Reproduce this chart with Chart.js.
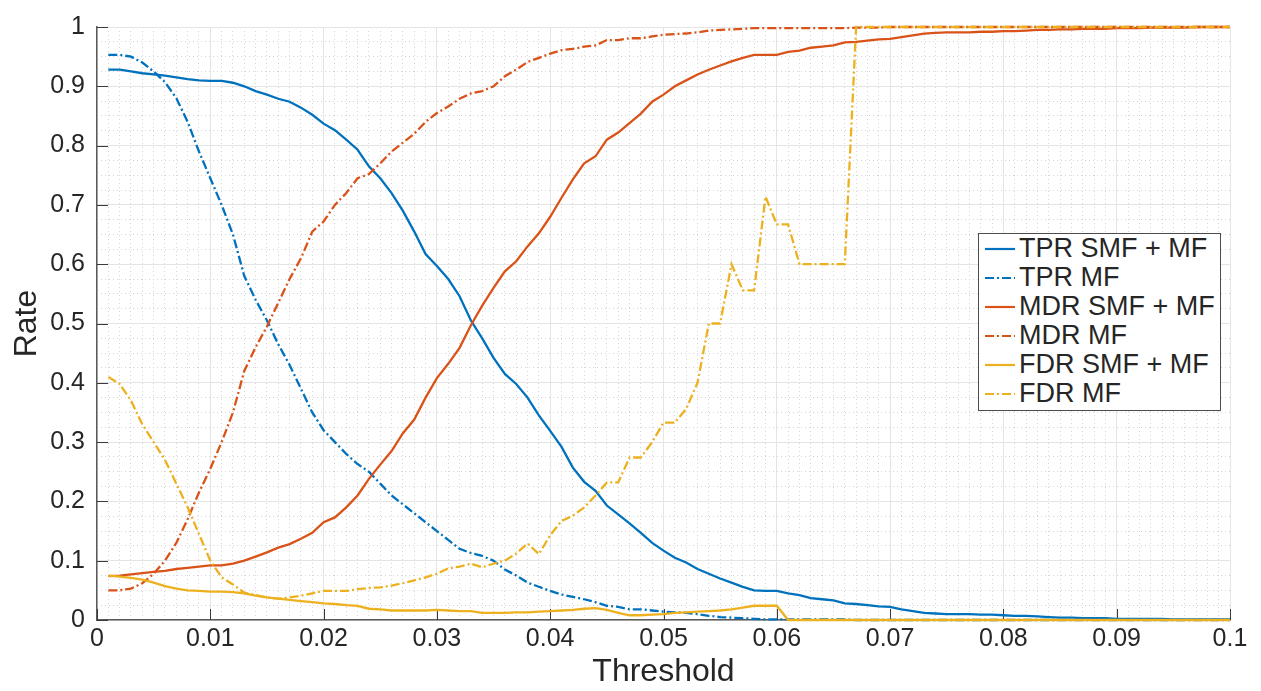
<!DOCTYPE html>
<html>
<head>
<meta charset="utf-8">
<script src="https://cdn.jsdelivr.net/npm/chart.js@4.4.1/dist/chart.umd.min.js"></script>
<style>
  body { margin: 0; background: #fff; }
  #wrap { position: relative; width: 1261px; height: 691px; }
  #legend {
    position: absolute; left: 978px; top: 233px; width: 241px;
    border: 1px solid #4d4d4d; background: #fff; padding-bottom: 2px;
    font-family: 'Liberation Sans', Arial, sans-serif; font-size: 27px; color: #262626;
  }
  .row { display: flex; align-items: center; height: 29px; white-space: nowrap; }
  .row svg { margin-left: 6px; margin-right: 4px; flex: none; }
</style>
</head>
<body>
<div id="wrap">
  <canvas id="c" width="1261" height="691"></canvas>
  <div id="legend"></div>
</div>
<script>
const thresholds = [
  0.001, 0.002, 0.003, 0.004, 0.005, 0.006, 0.007, 0.008, 0.009, 0.010,
  0.011, 0.012, 0.013, 0.014, 0.015, 0.016, 0.017, 0.018, 0.019, 0.020,
  0.021, 0.022, 0.023, 0.024, 0.025, 0.026, 0.027, 0.028, 0.029, 0.030,
  0.031, 0.032, 0.033, 0.034, 0.035, 0.036, 0.037, 0.038, 0.039, 0.040,
  0.041, 0.042, 0.043, 0.044, 0.045, 0.046, 0.047, 0.048, 0.049, 0.050,
  0.051, 0.052, 0.053, 0.054, 0.055, 0.056, 0.057, 0.058, 0.059, 0.060,
  0.061, 0.062, 0.063, 0.064, 0.065, 0.066, 0.067, 0.068, 0.069, 0.070,
  0.071, 0.072, 0.073, 0.074, 0.075, 0.076, 0.077, 0.078, 0.079, 0.080,
  0.081, 0.082, 0.083, 0.084, 0.085, 0.086, 0.087, 0.088, 0.089, 0.090,
  0.091, 0.092, 0.093, 0.094, 0.095, 0.096, 0.097, 0.098, 0.099, 0.100
];

const tprSmfMf = [
  0.928, 0.928, 0.925, 0.922, 0.920, 0.918, 0.915, 0.912, 0.910, 0.909,
  0.909, 0.906, 0.900, 0.892, 0.886, 0.879, 0.874, 0.864, 0.852, 0.837,
  0.826, 0.810, 0.793, 0.765, 0.745, 0.720, 0.690, 0.655, 0.617, 0.597,
  0.575, 0.546, 0.505, 0.475, 0.442, 0.415, 0.398, 0.375, 0.345, 0.319,
  0.292, 0.257, 0.233, 0.218, 0.193, 0.178, 0.163, 0.147, 0.130, 0.117,
  0.105, 0.097, 0.086, 0.078, 0.070, 0.063, 0.056, 0.050, 0.049, 0.049,
  0.045, 0.042, 0.037, 0.035, 0.033, 0.028, 0.027, 0.025, 0.023, 0.022,
  0.018, 0.015, 0.012, 0.011, 0.010, 0.010, 0.010, 0.009, 0.009, 0.008,
  0.007, 0.007, 0.006, 0.005, 0.004, 0.004, 0.003, 0.003, 0.003, 0.002,
  0.002, 0.002, 0.002, 0.002, 0.001, 0.001, 0.001, 0.001, 0.001, 0.001
];

const tprMf = [
  0.953, 0.953, 0.950, 0.940, 0.925, 0.907, 0.880, 0.840, 0.790, 0.745,
  0.700, 0.650, 0.580, 0.540, 0.505, 0.465, 0.430, 0.390, 0.350, 0.320,
  0.300, 0.280, 0.263, 0.250, 0.230, 0.210, 0.195, 0.180, 0.165, 0.150,
  0.135, 0.120, 0.113, 0.108, 0.100, 0.085, 0.075, 0.063, 0.056, 0.049,
  0.043, 0.039, 0.035, 0.030, 0.024, 0.022, 0.018, 0.018, 0.016, 0.014,
  0.013, 0.012, 0.010, 0.007, 0.005, 0.004, 0.003, 0.002, 0.001, 0.001,
  0.001, 0.001, 0.001, 0.001, 0.001, 0.001, 0, 0, 0, 0,
  0, 0, 0, 0, 0, 0, 0, 0, 0, 0,
  0, 0, 0, 0, 0, 0, 0, 0, 0, 0,
  0, 0, 0, 0, 0, 0, 0, 0, 0, 0
];

const mdrSmfMf = [
  0.074, 0.075, 0.077, 0.079, 0.081, 0.083, 0.086, 0.088, 0.090, 0.092,
  0.092, 0.095, 0.100, 0.107, 0.114, 0.122, 0.128, 0.137, 0.147, 0.165,
  0.173, 0.190, 0.210, 0.238, 0.262, 0.285, 0.315, 0.338, 0.375, 0.408,
  0.432, 0.459, 0.497, 0.530, 0.560, 0.588, 0.605, 0.630, 0.652, 0.680,
  0.712, 0.743, 0.770, 0.782, 0.810, 0.822, 0.838, 0.854, 0.874, 0.886,
  0.900, 0.910, 0.920, 0.928, 0.935, 0.942, 0.948, 0.953, 0.953, 0.953,
  0.958, 0.960, 0.965, 0.967, 0.969, 0.974, 0.975, 0.977, 0.979, 0.980,
  0.983, 0.986, 0.989, 0.990, 0.991, 0.991, 0.991, 0.992, 0.992, 0.993,
  0.993, 0.994, 0.995, 0.995, 0.996, 0.996, 0.997, 0.997, 0.997, 0.998,
  0.998, 0.998, 0.999, 0.999, 0.999, 0.999, 1, 1, 1, 1
];

const mdrMf = [
  0.050, 0.050, 0.053, 0.062, 0.078, 0.100, 0.130, 0.170, 0.215, 0.255,
  0.300, 0.350, 0.420, 0.460, 0.495, 0.535, 0.575, 0.610, 0.655, 0.672,
  0.700, 0.720, 0.745, 0.752, 0.770, 0.790, 0.805, 0.820, 0.840, 0.855,
  0.866, 0.879, 0.888, 0.892, 0.900, 0.917, 0.928, 0.941, 0.948, 0.955,
  0.961, 0.963, 0.967, 0.969, 0.978, 0.978, 0.981, 0.981, 0.984, 0.987,
  0.988, 0.989, 0.991, 0.994, 0.995, 0.996, 0.997, 0.998, 0.998, 0.998,
  0.998, 0.998, 0.998, 0.998, 0.998, 0.998, 0.999, 0.999, 0.999, 1,
  1, 1, 1, 1, 1, 1, 1, 1, 1, 1,
  1, 1, 1, 1, 1, 1, 1, 1, 1, 1,
  1, 1, 1, 1, 1, 1, 1, 1, 1, 1
];

const fdrSmfMf = [
  0.075, 0.073, 0.071, 0.068, 0.063, 0.057, 0.053, 0.050, 0.049, 0.048,
  0.048, 0.047, 0.045, 0.041, 0.038, 0.036, 0.034, 0.032, 0.030, 0.028,
  0.027, 0.025, 0.024, 0.019, 0.018, 0.016, 0.016, 0.016, 0.016, 0.017,
  0.016, 0.015, 0.015, 0.012, 0.012, 0.012, 0.013, 0.013, 0.014, 0.015,
  0.016, 0.017, 0.019, 0.020, 0.017, 0.012, 0.008, 0.008, 0.009, 0.010,
  0.012, 0.013, 0.014, 0.015, 0.016, 0.018, 0.021, 0.024, 0.024, 0.024,
  0, 0, 0, 0, 0, 0, 0, 0, 0, 0,
  0, 0, 0, 0, 0, 0, 0, 0, 0, 0,
  0, 0, 0, 0, 0, 0, 0, 0, 0, 0,
  0, 0, 0, 0, 0, 0, 0, 0, 0, 0
];

const fdrMf = [
  0.410, 0.398, 0.370, 0.330, 0.300, 0.270, 0.230, 0.190, 0.145, 0.100,
  0.072, 0.060, 0.046, 0.042, 0.038, 0.036, 0.038, 0.041, 0.045, 0.049,
  0.049, 0.049, 0.052, 0.054, 0.055, 0.058, 0.062, 0.067, 0.072, 0.078,
  0.087, 0.090, 0.095, 0.089, 0.095, 0.100, 0.112, 0.129, 0.111, 0.143,
  0.167, 0.176, 0.190, 0.210, 0.232, 0.232, 0.274, 0.274, 0.300, 0.333,
  0.333, 0.356, 0.400, 0.500, 0.500, 0.600, 0.556, 0.556, 0.714, 0.667,
  0.667, 0.600, 0.600, 0.600, 0.600, 0.600, 1, 1, 1, 1,
  1, 1, 1, 1, 1, 1, 1, 1, 1, 1,
  1, 1, 1, 1, 1, 1, 1, 1, 1, 1,
  1, 1, 1, 1, 1, 1, 1, 1, 1, 1
];

const xTicks = [0, 0.01, 0.02, 0.03, 0.04, 0.05, 0.06, 0.07, 0.08, 0.09, 0.1];
const xTickLabels = ['0', '0.01', '0.02', '0.03', '0.04', '0.05', '0.06', '0.07', '0.08', '0.09', '0.1'];
const yTicks = [0, 0.1, 0.2, 0.3, 0.4, 0.5, 0.6, 0.7, 0.8, 0.9, 1];
const yTickLabels = ['0', '0.1', '0.2', '0.3', '0.4', '0.5', '0.6', '0.7', '0.8', '0.9', '1'];

const seriesNames = ['TPR SMF + MF', 'TPR MF', 'MDR SMF + MF', 'MDR MF', 'FDR SMF + MF', 'FDR MF'];
const seriesValues = [tprSmfMf, tprMf, mdrSmfMf, mdrMf, fdrSmfMf, fdrMf];
const seriesColors = ['#0072BD', '#0072BD', '#D95319', '#D95319', '#EDB120', '#EDB120'];
const dashDot = [9, 3, 2, 3];
const seriesDash = [[], dashDot, [], dashDot, [], dashDot];

const FONT = "'Liberation Sans', Arial, Helvetica, sans-serif";
const TEXT = '#262626';

const datasets = seriesNames.map((name, i) => ({
  label: name,
  data: thresholds.map((t, k) => ({ x: t, y: seriesValues[i][k] })),
  borderColor: seriesColors[i],
  borderDash: seriesDash[i],
  borderWidth: 2.3,
  pointRadius: 0,
  tension: 0,
  fill: false,
  clip: 4,
  order: seriesNames.length - i   // later series on top, like MATLAB
}));

// MATLAB-style ticks pointing into the axes
const inwardTicks = {
  id: 'inwardTicks',
  beforeDatasetsDraw(chart) {
    const { ctx, chartArea: a, scales: { x, y } } = chart;
    ctx.save();
    ctx.strokeStyle = '#3a3a3a';
    ctx.lineWidth = 1;
    ctx.beginPath();
    xTicks.forEach(v => {
      const px = Math.round(x.getPixelForValue(v)) + 0.5;
      ctx.moveTo(px, a.bottom);
      ctx.lineTo(px, a.bottom - 11);
    });
    yTicks.forEach(v => {
      const py = Math.round(y.getPixelForValue(v)) + 0.5;
      ctx.moveTo(a.left, py);
      ctx.lineTo(a.left + 11, py);
    });
    ctx.stroke();
    ctx.restore();
  }
};

const chart = new Chart(document.getElementById('c'), {
  type: 'line',
  data: { datasets },
  plugins: [inwardTicks],
  options: {
    responsive: false,
    animation: false,
    devicePixelRatio: 1,
    layout: { padding: { top: 25, right: 31, left: 0, bottom: 0 } },
    plugins: { legend: { display: false }, tooltip: { enabled: false } },
    scales: {
      xm: {
        type: 'linear', position: 'top', min: 0, max: 0.1,
        ticks: { display: false, stepSize: 0.001, autoSkip: false, maxTicksLimit: 200 },
        grid: { color: '#d6d6d6', lineWidth: 1, drawTicks: false },
        border: { display: false, dash: [1, 3] },
        afterFit: s => { s.height = 0; }
      },
      ym: {
        type: 'linear', position: 'right', min: 0, max: 1,
        ticks: { display: false, stepSize: 0.025, autoSkip: false, maxTicksLimit: 200 },
        grid: { color: '#d6d6d6', lineWidth: 1, drawTicks: false },
        border: { display: false, dash: [1, 3] },
        afterFit: s => { s.width = 0; }
      },
      x: {
        type: 'linear', position: 'bottom', min: 0, max: 0.1,
        afterBuildTicks: s => { s.ticks = xTicks.map(v => ({ value: v })); },
        afterFit: s => { s.height = 71; },
        ticks: {
          callback: (v, i) => xTickLabels[i],
          font: { family: FONT, size: 25 }, color: TEXT,
          padding: 4, autoSkip: false, maxRotation: 0
        },
        grid: { color: '#e4e4e4', lineWidth: 1, drawTicks: false },
        border: { display: true, color: '#5a5a5a', width: 1.5 },
        title: { display: true, text: 'Threshold', font: { family: FONT, size: 32 }, color: TEXT, padding: 0 }
      },
      y: {
        type: 'linear', position: 'left', min: 0, max: 1,
        afterBuildTicks: s => { s.ticks = yTicks.map(v => ({ value: v })); },
        afterFit: s => { s.width = 97; },
        ticks: {
          callback: (v, i) => yTickLabels[i],
          font: { family: FONT, size: 25 }, color: TEXT, padding: 12
        },
        grid: { color: '#e4e4e4', lineWidth: 1, drawTicks: false },
        border: { display: true, color: '#5a5a5a', width: 1.5 },
        title: { display: true, text: 'Rate', font: { family: FONT, size: 32 }, color: TEXT, padding: { top: 8, bottom: 0 } }
      }
    }
  }
});

// legend box inside the axes, built from the datasets
const legendEl = document.getElementById('legend');
chart.data.datasets.forEach(ds => {
  const row = document.createElement('div');
  row.className = 'row';
  const dash = ds.borderDash.length ? ds.borderDash.join(' ') : 'none';
  row.innerHTML =
    `<svg width="30" height="6"><line x1="0" y1="3" x2="30" y2="3" stroke="${ds.borderColor}" ` +
    `stroke-width="2.2" stroke-dasharray="${dash}"/></svg><span>${ds.label}</span>`;
  legendEl.appendChild(row);
});
</script>
</body>
</html>
